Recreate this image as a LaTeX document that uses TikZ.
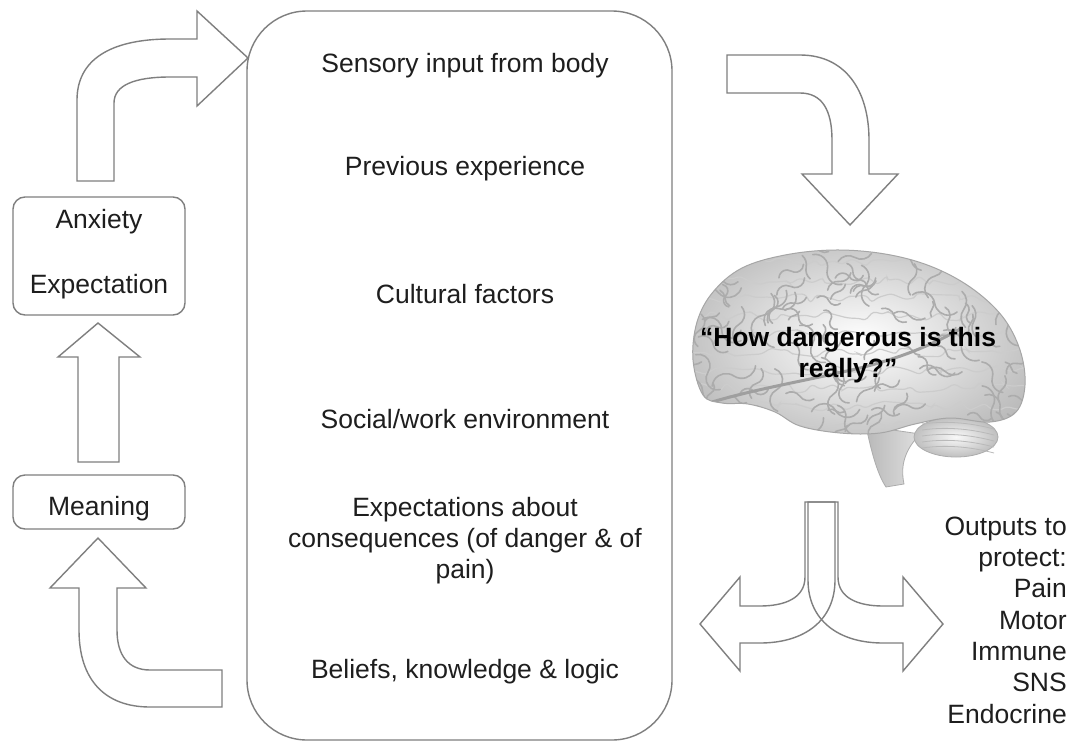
\documentclass[tikz,border=0pt]{standalone}
\usepackage{fontspec}
\setmainfont{Liberation Sans}
\usetikzlibrary{decorations.pathmorphing}
\definecolor{linecol}{HTML}{7F7F7F}
\definecolor{textcol}{HTML}{1E1E1E}
\begin{document}
\begin{tikzpicture}[x=1pt,y=-1pt,
  arr/.style={draw=linecol, line width=1.4pt, fill=white, line join=miter},
  arrnf/.style={draw=linecol, line width=1.4pt, line join=miter},
  box/.style={draw=linecol, line width=1.4pt, rounded corners=12pt, inner sep=0},
  txt/.style={font=\fontsize{26.5}{31}\selectfont, text=textcol, inner sep=0, anchor=base},
  txtr/.style={font=\fontsize{26.5}{31}\selectfont, text=textcol, inner sep=0, anchor=base east},
  btxt/.style={font=\fontsize{26.5}{31}\selectfont\bfseries, text=black, inner sep=0, anchor=base},
  gyrus/.style={draw=gray!40, line width=1.2pt, decorate, decoration={random steps, segment length=9pt, amplitude=5pt}, rounded corners=3pt},
  sulcus/.style={draw=gray!65, line width=1.6pt, line cap=round},
]
\path[use as bounding box, fill=white] (0,0) rectangle (1071,742);

% main rounded box
\node[box, rounded corners=60pt, minimum width=425pt, minimum height=729pt] (main) at (459.5,375.5) {};

% left boxes
\node[box, minimum width=172pt, minimum height=118pt] (anx) at (99,256) {};
\node[box, minimum width=172pt, minimum height=54pt] (mean) at (99,502) {};
\node[txt] (tanx) at (99,228) {Anxiety};
\node[txt] (texp) at (99,293) {Expectation};
\node[txt] (tmean) at (99,515) {Meaning};

% main box texts
\node[txt] (t1) at (465,72) {Sensory input from body};
\node[txt] (t2) at (465,175) {Previous experience};
\node[txt] (t3) at (465,303) {Cultural factors};
\node[txt] (t4) at (465,428) {Social/work environment};
\node[txt] (t5a) at (465,516) {Expectations about};
\node[txt] (t5b) at (465,547) {consequences (of danger \& of};
\node[txt] (t5c) at (465,578) {pain)};
\node[txt] (t6) at (465,678) {Beliefs, knowledge \& logic};

% top-left curved arrow
\path[arr] (77,181) -- (77,100) .. controls (77,60) and (110,39) .. (170,39) -- (197,39) -- (197,11) -- (248,58) -- (197,106) -- (197,77) -- (170,77) .. controls (135,77) and (114,85) .. (114,103) -- (114,181) -- cycle;

% top-right curved arrow
\path[arr] (727,55) -- (800,55) .. controls (845,55) and (869,90) .. (869,140) -- (869,174) -- (898,174) -- (850,225) -- (802,174) -- (832,174) -- (832,140) .. controls (832,110) and (822,93) .. (800,93) -- (727,93) -- cycle;

% middle up arrow
\path[arr] (78,462) -- (78,357) -- (58,357) -- (98,323) -- (140,357) -- (119,357) -- (119,462) -- cycle;

% bottom-left curved arrow
\path[arr] (79,588) -- (79,630) .. controls (79,680) and (105,707) .. (150,707) -- (222,707) -- (222,670) -- (150,670) .. controls (128,670) and (117,655) .. (117,630) -- (117,588) -- (146,588) -- (98,538) -- (50,588) -- cycle;

% brain: brainstem and cerebellum
\path[shade, left color=gray!55, right color=gray!25, draw=gray!65, line width=0.8pt] (866,426) .. controls (872,455) and (878,475) .. (886,487) -- (904,484) .. controls (900,465) and (905,450) .. (920,434) -- cycle;
\path[shade, inner color=gray!5, outer color=gray!50, draw=gray!65, line width=0.8pt] (956,437) ellipse [x radius=42pt, y radius=20pt];
\foreach \k in {0,1,2,3,4} \draw[gray!55, line width=0.8pt] (922,{424+\k*6}) .. controls (950,{420+\k*6}) and (975,{424+\k*6}) .. (994,{429+\k*6});
% cerebrum
\begin{scope}
\path[clip] plot[smooth cycle, tension=0.6] coordinates {(703,395) (693,360) (697,322) (713,292) (742,268) (785,255) (835,250) (885,254) (930,266) (970,287) (1002,316) (1020,350) (1025,385) (1016,412) (990,422) (950,418) (915,424) (880,433) (840,433) (800,426) (775,412) (748,404) (722,403)};
\path[shade, inner color=white, outer color=gray!55] (660,220) rectangle (1060,460);
\pgfmathsetseed{11}
\foreach \yy in {262,280,...,440} \draw[gyrus] (685,\yy) -- (1035,\yy);
\foreach \i in {1,...,120}{
  \pgfmathsetmacro{\px}{695+330*rnd}
  \pgfmathsetmacro{\py}{250+185*rnd}
  \pgfmathsetmacro{\ang}{360*rnd}
  \pgfmathsetmacro{\rr}{6+8*rnd}
  \pgfmathsetmacro{\da}{60+80*rnd}
  \pgfmathsetmacro{\angb}{\ang+\da+180}
  \draw[sulcus] (\px,\py) arc[start angle=\ang, delta angle=\da, radius=\rr] arc[start angle=\angb, delta angle=-\da, radius=\rr];
}
\draw[gray!75, line width=3pt] (712,402) .. controls (760,388) and (800,382) .. (860,368) .. controls (900,358) and (930,346) .. (962,328);
\end{scope}
\draw[gray!70, line width=1pt] plot[smooth cycle, tension=0.6] coordinates {(703,395) (693,360) (697,322) (713,292) (742,268) (785,255) (835,250) (885,254) (930,266) (970,287) (1002,316) (1020,350) (1025,385) (1016,412) (990,422) (950,418) (915,424) (880,433) (840,433) (800,426) (775,412) (748,404) (722,403)};
\node[btxt] (q1) at (848,346) {“How dangerous is this};
\node[btxt] (q2) at (848,377) {really?”};

% split arrows
\path[arrnf] (805,502) -- (805,577) .. controls (805,598) and (785,606) .. (760,606) -- (740,606) -- (740,577) -- (700,624) -- (740,671) -- (740,643) -- (760,643) .. controls (805,643) and (835,620) .. (835,580) -- (835,502) -- cycle;
\path[arrnf] (838,502) -- (838,577) .. controls (838,598) and (858,606) .. (883,606) -- (903,606) -- (903,577) -- (943,624) -- (903,671) -- (903,643) -- (883,643) .. controls (838,643) and (808,620) .. (808,580) -- (808,502) -- cycle;

% outputs
\node[txtr] (o1) at (1067,535) {Outputs to};
\node[txtr] (o2) at (1067,566) {protect:};
\node[txtr] (o3) at (1067,597.5) {Pain};
\node[txtr] (o4) at (1067,629) {Motor};
\node[txtr] (o5) at (1067,660) {Immune};
\node[txtr] (o6) at (1067,691.5) {SNS};
\node[txtr] (o7) at (1067,723) {Endocrine};
\end{tikzpicture}
\end{document}
